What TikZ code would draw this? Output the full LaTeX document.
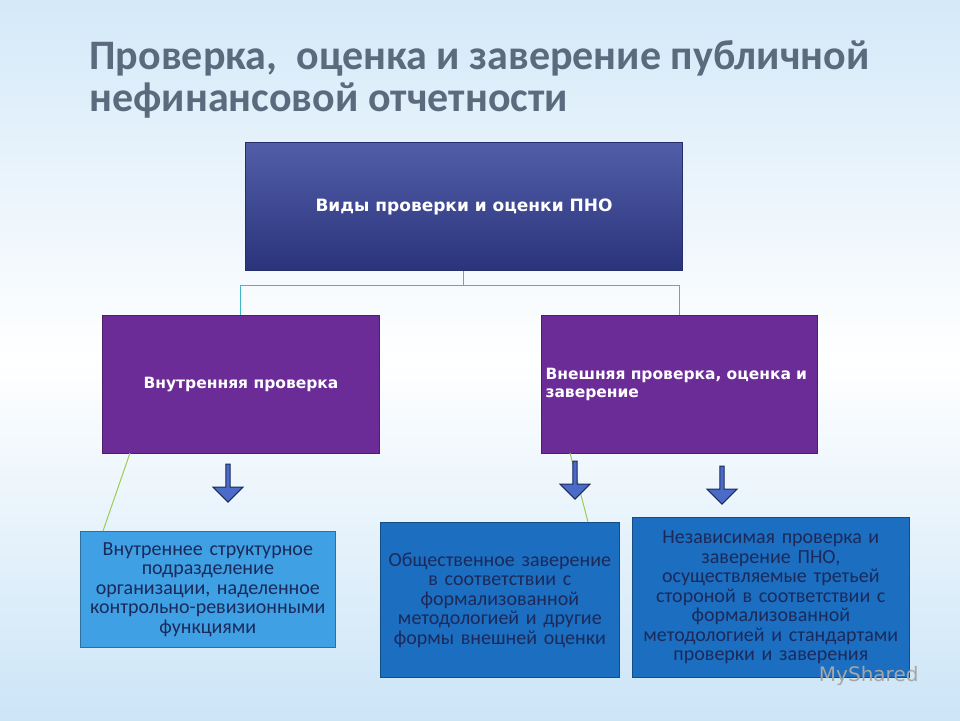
\documentclass[tikz,border=0pt]{standalone}
\usepackage{fontspec}
\setmainfont{Carlito}
\newfontfamily\arialf{DejaVu Sans}
\usetikzlibrary{shapes.arrows}
\definecolor{bgblue}{HTML}{A9D3F2}
\definecolor{topblue}{HTML}{34419A}
\definecolor{purp}{HTML}{6B2C98}
\definecolor{lblue}{HTML}{3FA0E4}
\definecolor{mblue}{HTML}{1B6EC0}
\definecolor{navy}{HTML}{1B2A5A}
\definecolor{titlec}{HTML}{5C6A7E}
\definecolor{teal}{HTML}{3FB8C8}
\definecolor{lgreen}{HTML}{9ACD50}
\definecolor{arr}{HTML}{4A6CC8}
\pgfdeclareverticalshading{bgsh}{100bp}{color(0bp)=(bgblue); color(25bp)=(bgblue!60!white); color(50bp)=(white); color(75bp)=(bgblue!50!white); color(100bp)=(bgblue)}
\tikzset{
 topbox/.style={draw=topblue!70!black,line width=1pt,top color=topblue!85!white,bottom color=topblue!80!black,text=white,font=\arialf\bfseries\fontsize{17}{20}\selectfont,align=center,inner sep=4pt,anchor=north west},
 purbox/.style={draw=purp!70!black,line width=1pt,fill=purp,text=white,font=\arialf\bfseries\fontsize{15.5}{18}\selectfont,align=left,anchor=north west},
 botbox/.style={draw=#1!70!black,line width=1pt,fill=#1,text=navy,font=\fontsize{20}{19.5}\selectfont,align=center,anchor=north west},
 conn/.style={teal,line width=1pt},
 gconn/.style={lgreen,line width=1pt},
 barrow/.style={single arrow,shape border rotate=270,draw=navy,line width=1pt,fill=arr,minimum width=30pt,single arrow head extend=3pt,minimum height=38pt,inner sep=0pt},
}
\begin{document}
\begin{tikzpicture}[x=1pt,y=-1pt]
\useasboundingbox (0,0) rectangle (960,720);
\shade[shading=bgsh] (0,0) rectangle (960,720);
\node[anchor=west,text=titlec,font=\bfseries\fontsize{42}{46}\selectfont] (t1) at (86,58) {Проверка,\ \ оценка и заверение публичной};
\node[anchor=west,text=titlec,font=\bfseries\fontsize{42}{46}\selectfont] (t2) at (86,101) {нефинансовой отчетности};
\node[topbox,minimum width=437pt,minimum height=128pt] (top) at (245,142) {Виды проверки и оценки ПНО};
\node[purbox,minimum width=277pt,minimum height=138pt,align=center] (L) at (102,315) {Внутренняя проверка};
\node[purbox,minimum width=276pt,minimum height=138pt,text width=268pt] (R) at (541,315) {Внешняя проверка, оценка и\\ заверение};
\node[botbox=lblue,minimum width=253pt,minimum height=116pt,text width=248pt] (b1) at (80,531) {Внутреннее структурное\\ подразделение\\ организации, наделенное\\ контрольно-ревизионными\\ функциями};
\node[botbox=mblue,minimum width=234pt,minimum height=155pt,text width=232pt] (b2) at (380,522) {Общественное заверение\\ в соответствии с\\ формализованной\\ методологией и другие\\ формы внешней оценки};
\node[botbox=mblue,minimum width=273pt,minimum height=160pt,text width=270pt] (b3) at (632,517) {Независимая проверка и\\ заверение ПНО,\\ осуществляемые третьей\\ стороной в соответствии с\\ формализованной\\ методологией и стандартами\\ проверки и заверения};
\coordinate (j) at (463,285);
\draw[conn] (top.south -| j) -- (j);
\draw[conn] (240,285) -- (679,285);
\draw[conn] (240,285) -- (240,315);
\draw[conn] (679,285) -- (679,315);
\draw[gconn] (130,453) -- (103,531);
\draw[gconn] (570,453) -- (588,522);
\node[barrow] (a1) at (228,482) {};
\node[barrow] (a2) at (575,479) {};
\node[barrow] (a3) at (722,484) {};
\node[anchor=east,text=gray!70,font=\arialf\fontsize{20}{22}\selectfont] (ms) at (922,676) {MyShared};
\end{tikzpicture}
\end{document}
